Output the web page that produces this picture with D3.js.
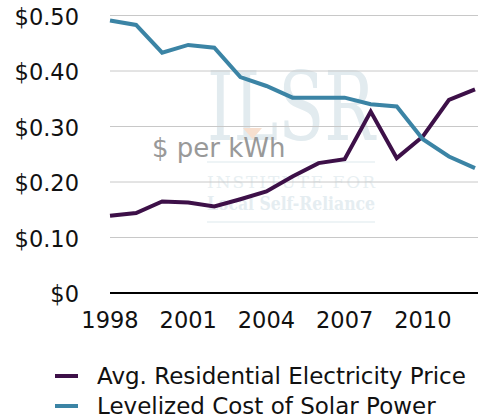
<!DOCTYPE html>
<html>
<head>
<meta charset="utf-8">
<script src="https://cdn.jsdelivr.net/npm/d3@7"></script>
<style>
  body { margin: 0; background: #fff; }
  svg { display: block; font-family: "DejaVu Sans", sans-serif; }
</style>
</head>
<body>
<div id="chart"></div>
<script>
var years = d3.range(1998, 2013);
var residential = [0.139, 0.144, 0.165, 0.163, 0.156, 0.169, 0.183, 0.210, 0.234, 0.241, 0.327, 0.243, 0.282, 0.348, 0.367];
var solar = [0.491, 0.483, 0.433, 0.447, 0.442, 0.389, 0.373, 0.352, 0.352, 0.352, 0.340, 0.336, 0.277, 0.246, 0.225];
var yTicks = [0, 0.1, 0.2, 0.3, 0.4, 0.5];
var xTicks = [1998, 2001, 2004, 2007, 2010];
var seriesNames = ["Avg. Residential Electricity Price", "Levelized Cost of Solar Power"];
var seriesColors = ["#3d1048", "#3b84a5"];

var width = 481, height = 418;
var svg = d3.select("#chart").append("svg")
    .attr("width", width)
    .attr("height", height);

var x = d3.scaleLinear().domain([1998, 2012]).range([110, 475]);
var y = d3.scaleLinear().domain([0, 0.5]).range([293, 15.5]);

// faint ILSR logo behind the plot
var wm = svg.append("g").attr("class", "watermark");
wm.append("text")
    .attr("x", 207).attr("y", 140)
    .attr("font-family", "DejaVu Serif, serif")
    .attr("font-size", 96)
    .attr("textLength", 168)
    .attr("lengthAdjust", "spacingAndGlyphs")
    .attr("fill", "#e2ebef")
    .text("ILSR");
wm.append("path")
    .attr("d", "M243,128 L262,128 L252.5,139 Z")
    .attr("fill", "#f7dfcf");
wm.selectAll("line")
    .data([162, 222])
  .enter().append("line")
    .attr("x1", 207).attr("x2", 375)
    .attr("y1", function(d) { return d; })
    .attr("y2", function(d) { return d; })
    .attr("stroke", "#e8f0f3").attr("stroke-width", 1.5);
wm.append("text")
    .attr("x", 207).attr("y", 188)
    .attr("font-family", "DejaVu Serif, serif")
    .attr("font-size", 17)
    .attr("textLength", 168)
    .attr("lengthAdjust", "spacing")
    .attr("fill", "#e8eff2")
    .text("INSTITUTE FOR");
wm.append("text")
    .attr("x", 207).attr("y", 210)
    .attr("font-family", "DejaVu Serif, serif")
    .attr("font-weight", "bold")
    .attr("font-size", 18)
    .attr("textLength", 168)
    .attr("lengthAdjust", "spacingAndGlyphs")
    .attr("fill", "#e5edf1")
    .text("Local Self-Reliance");

// gridlines
svg.append("g")
  .selectAll("line")
    .data(yTicks.filter(function(d) { return d > 0; }))
  .enter().append("line")
    .attr("x1", x(1998)).attr("x2", 478)
    .attr("y1", function(d) { return y(d); })
    .attr("y2", function(d) { return y(d); })
    .attr("stroke", "#c8c8c8")
    .attr("stroke-width", 1);

// y labels
svg.append("g")
  .selectAll("text")
    .data(yTicks)
  .enter().append("text")
    .attr("x", 79)
    .attr("y", function(d) { return y(d) + 9; })
    .attr("text-anchor", "end")
    .attr("font-size", 22.5)
    .attr("fill", "#111")
    .text(function(d) { return d === 0 ? "$0" : "$" + d.toFixed(2); });

// x axis
svg.append("line")
    .attr("x1", x(1998)).attr("x2", 478)
    .attr("y1", y(0)).attr("y2", y(0))
    .attr("stroke", "#000")
    .attr("stroke-width", 2);

svg.append("g")
  .selectAll("text")
    .data(xTicks)
  .enter().append("text")
    .attr("x", function(d) { return x(d); })
    .attr("y", 328)
    .attr("text-anchor", "middle")
    .attr("font-size", 22.5)
    .attr("fill", "#111")
    .text(function(d) { return d; });

svg.append("text")
    .attr("x", 152).attr("y", 157)
    .attr("font-size", 26)
    .attr("fill", "#999")
    .text("$ per kWh");

// lines
var line = d3.line()
    .x(function(d, i) { return x(years[i]); })
    .y(function(d) { return y(d); });

[residential, solar].forEach(function(s, i) {
  svg.append("path")
      .datum(s)
      .attr("d", line)
      .attr("fill", "none")
      .attr("stroke", seriesColors[i])
      .attr("stroke-width", 4)
      .attr("stroke-linejoin", "miter");
});

// legend
var legend = svg.append("g")
  .selectAll("g")
    .data(seriesNames)
  .enter().append("g")
    .attr("transform", function(d, i) { return "translate(0," + (376 + i * 30) + ")"; });

legend.append("line")
    .attr("x1", 55).attr("x2", 78)
    .attr("stroke", function(d, i) { return seriesColors[i]; })
    .attr("stroke-width", 4);

legend.append("text")
    .attr("x", 97).attr("y", 7.5)
    .attr("font-size", 23)
    .attr("fill", "#111")
    .text(function(d) { return d; });
</script>
</body>
</html>
